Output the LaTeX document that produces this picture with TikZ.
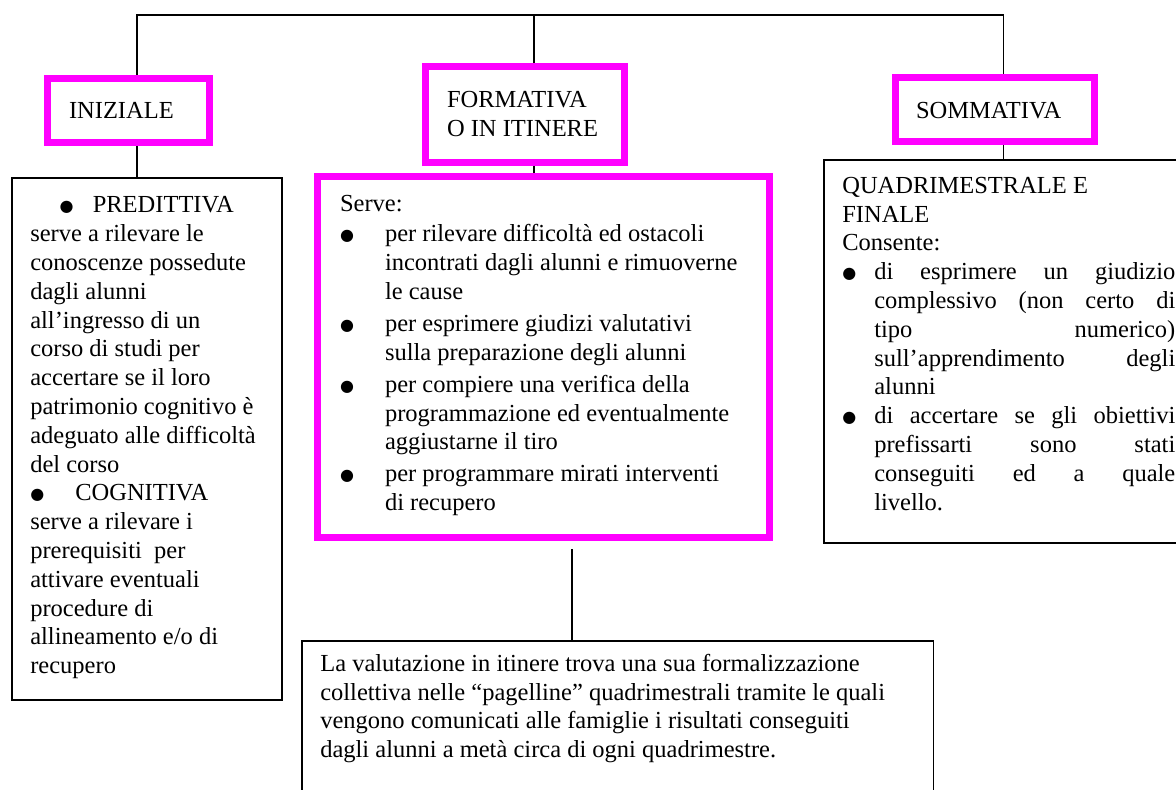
\documentclass[tikz,border=0pt]{standalone}
\usepackage{fontspec}
\setmainfont{Liberation Serif}
\newfontfamily\simboli{DejaVu Sans}

\definecolor{fucsia}{RGB}{255,0,255}

% testo dei riquadri: larghezza, altezza, contenuto
\newcommand{\testo}[3]{\parbox[t][#2][t]{#1}{\fontsize{12.25}{14.4}\selectfont
  \hyphenpenalty=10000 \tolerance=10000 \hbadness=10000 \strut #3}}
% pallino piu grande, come nel documento
\newcommand{\pallino}{\raisebox{0.6pt}{\simboli\fontsize{8}{8}\selectfont ●}}
% voce puntata con rientro sospeso
\newcommand{\punto}[2][0pt]{\par\vspace{#1}\hangindent=#2\hangafter=1
  \noindent\makebox[#2][l]{\pallino}}

\tikzset{
  titolo/.style={draw=fucsia, line width=3.5pt, anchor=north west},
  riquadro/.style={draw, line width=0.8pt, anchor=north west},
  linea/.style={line width=0.6pt}
}

\begin{document}
\begin{tikzpicture}[x=0.5pt,y=-0.5pt]
    \useasboundingbox (0,0) rectangle (1176,790);
    \clip (0,0) rectangle (1176,790);
    % tre tipi di valutazione
    \node[titolo, inner xsep=10.75pt, inner ysep=9.9pt] (ini) at (44,75)
      {\testo{59.5pt}{12.2pt}{INIZIALE}};
    \node[titolo, inner xsep=10.75pt, inner ysep=10.67pt] (form) at (422,63)
      {\testo{78pt}{26.66pt}{\mbox{FORMATIVA}\\\mbox{O IN ITINERE}}};
    \node[titolo, inner xsep=10.25pt, inner ysep=10.4pt] (somm) at (892,74)
      {\testo{79pt}{11.2pt}{SOMMATIVA}};
    % iniziale
    \node[riquadro, inner xsep=9.25pt, inner ysep=7.5pt] (sx) at (11,177)
      {\testo{116.5pt}{246pt}{%
        \makebox[\linewidth][c]{\makebox[16.5pt][l]{\pallino}PREDITTIVA}\\
        serve a rilevare le\\
        conoscenze possedute\\
        dagli alunni\\
        all’ingresso di un\\
        corso di studi per\\
        accertare se il loro\\
        patrimonio cognitivo è\\
        adeguato alle difficoltà\\
        del corso\\
        \makebox[22.5pt][l]{\pallino}COGNITIVA\\
        serve a rilevare i\\
        prerequisiti\ \ per\\
        attivare eventuali\\
        procedure di\\
        allineamento e/o di\\
        recupero}};
    % formativa
    \node[titolo, inner xsep=11.25pt, inner ysep=7.67pt] (centro) at (314,173)
      {\testo{203.5pt}{165.16pt}{Serve:
        \punto[0.6pt]{22.5pt}per rilevare difficoltà ed ostacoli\\
        incontrati dagli alunni e rimuoverne\\
        le cause
        \punto[1.6pt]{22.5pt}per esprimere giudizi valutativi\\
        sulla preparazione degli alunni
        \punto[1.6pt]{22.5pt}per compiere una verifica della\\
        programmazione ed eventualmente\\
        aggiustarne il tiro
        \punto[1.6pt]{22.5pt}per programmare mirati interventi\\
        di recupero}};
    % sommativa
    \node[riquadro, inner xsep=9.25pt, inner ysep=6.67pt] (dx) at (823,159)
      {\testo{166.5pt}{178.4pt}{QUADRIMESTRALE E\\
        FINALE\\
        Consente:
        \punto{16pt}di esprimere un giudizio\break
        complessivo (non certo di\break
        tipo numerico)\break
        sull’apprendimento degli\break
        alunni
        \punto{16pt}di accertare se gli obiettivi\break
        prefissarti sono stati\break
        conseguiti ed a quale\break
        livello.}};
    % pagelline
    \node[riquadro, inner xsep=9.25pt, inner ysep=5.17pt] (sotto) at (301,640)
      {\testo{297.25pt}{100pt}{%
        La valutazione in itinere trova una sua formalizzazione\\
        collettiva nelle “pagelline” quadrimestrali tramite le quali\\
        vengono comunicati alle famiglie i risultati conseguiti\\
        dagli alunni a metà circa di ogni quadrimestre.}};
    % collegamenti
    \coordinate (bL) at (137,15);
    \coordinate (bM) at (534,15);
    \coordinate (bR) at (1003.5,15);
    \coordinate (cB) at (572,600);
    \draw[linea] (ini.north -| bL) -- (bL) -- (bR) -- (somm.north -| bR);
    \draw[linea] (bM) -- (form.north -| bM);
    \draw[linea] (ini.south -| bL) -- (sx.north -| bL);
    \draw[linea] (form.south -| bM) -- (centro.north -| bM);
    \draw[linea] (somm.south -| bR) -- (dx.north -| bR);
    \draw[linea, shorten <=4pt] (centro.south -| cB) -- (sotto.north -| cB);
\end{tikzpicture}
\end{document}
